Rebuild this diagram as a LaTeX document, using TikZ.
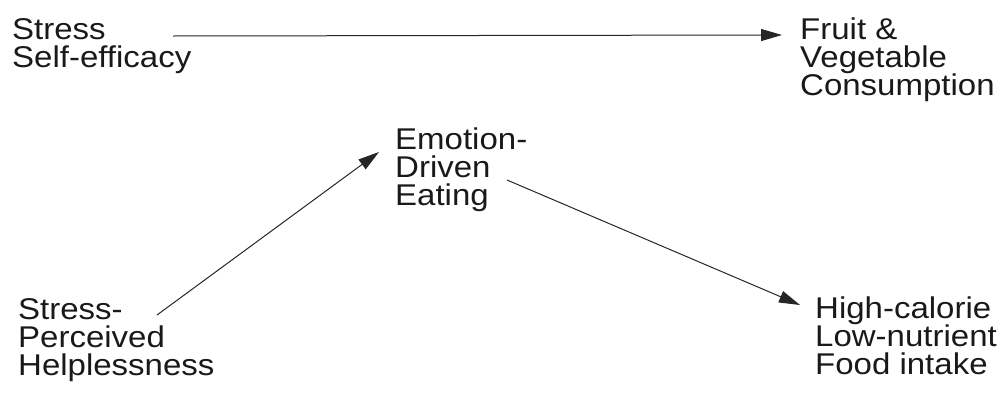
\documentclass[tikz,border=0pt]{standalone}
\usepackage{fontspec}
\setmainfont{Liberation Sans}[FakeStretch=1.1]
\usetikzlibrary{arrows.meta,calc}
\tikzset{
  lbl/.style={anchor=north west, inner sep=0pt, align=left, font=\fontsize{30}{28}\selectfont, text=black!90},
  arr/.style={draw=black!85, line width=1pt, -{Triangle[length=21pt,width=12pt]}}
}
\begin{document}
\begin{tikzpicture}[x=1pt,y=-1pt]
\useasboundingbox (0,0) rectangle (1000,394);
\node[lbl] (a) at (12,18) {Stress\\Self-efficacy};
\node[lbl] (b) at (800,18) {Fruit \&\\Vegetable\\Consumption};
\node[lbl] (d) at (395,128) {Emotion-\\Driven\\Eating};
\node[lbl] (c) at (18,298) {Stress-\\Perceived\\Helplessness};
\node[lbl] (e) at (815,297) {High-calorie\\Low-nutrient\\Food intake};
\draw[arr] ($(a.north west)+(161,18)$) -- ($(b.north west)+(-18,17)$);
\draw[arr] ($(c.north west)+(139,17)$) -- ($(d.north west)+(-16,24)$);
\draw[arr] ($(d.north west)+(112,52)$) -- ($(e.north west)+(-15,8)$);
\end{tikzpicture}
\end{document}
